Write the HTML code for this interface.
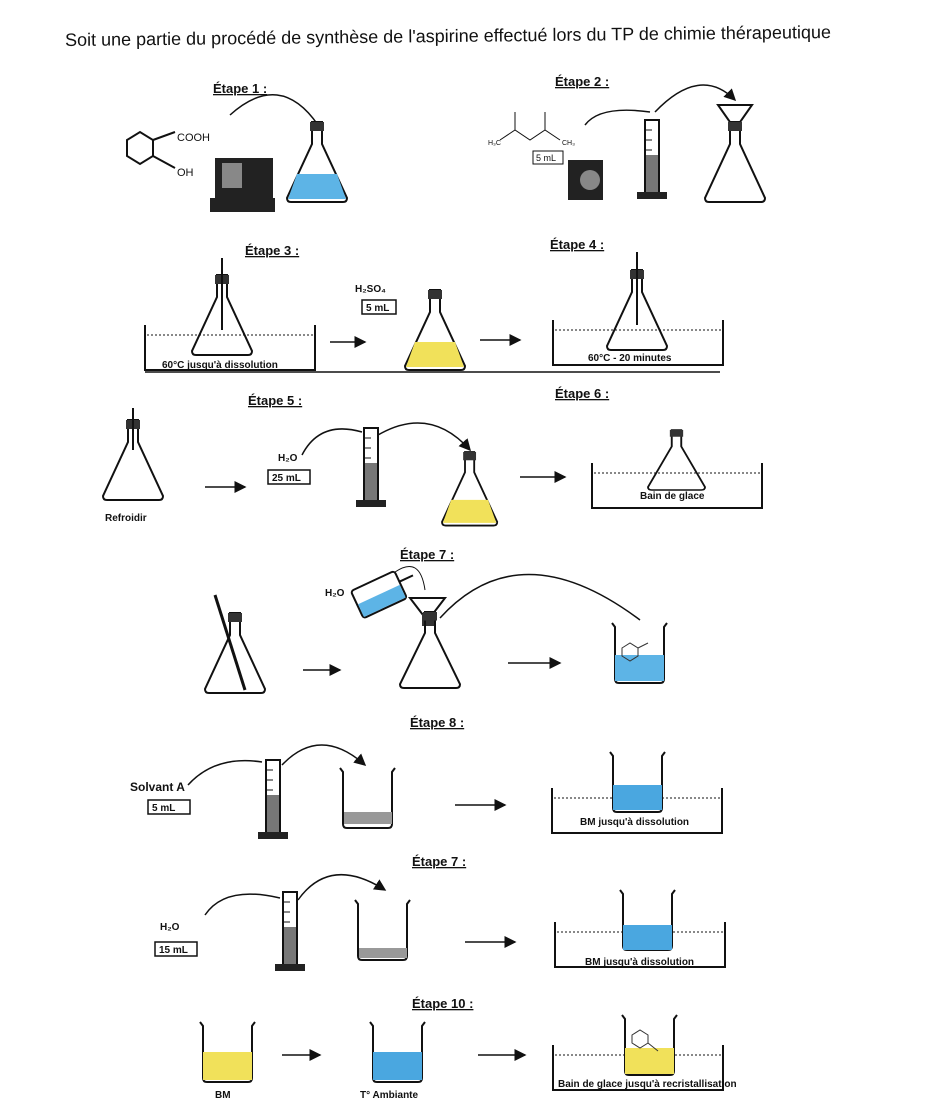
<!DOCTYPE html>
<html><head><meta charset="utf-8"><style>
html,body{margin:0;padding:0;background:#fff}
svg{display:block}
text{font-family:"Liberation Sans",sans-serif;fill:#111}
.et{font-size:13px;font-weight:bold;text-decoration:underline}
.s{font-size:10px;font-weight:bold}
</style></head><body>
<svg width="928" height="1120" viewBox="0 0 928 1120" xmlns="http://www.w3.org/2000/svg">
<defs>
<symbol id="flask" overflow="visible"><path d="M25,0 H35 V22 L60,76 Q60,80 56,80 H4 Q0,80 0,76 L25,22 Z" fill="none" stroke="#111" stroke-width="2"/><rect x="23" y="0" width="14" height="9" fill="#333"/></symbol>
<symbol id="lq" overflow="visible"><polygon points="10,52 50,52 59,77 1,77"/></symbol>
<symbol id="beaker" overflow="visible"><path d="M0,0 L3,4 V56 Q3,60 7,60 H48 Q52,60 52,56 V4 L55,0" fill="none" stroke="#111" stroke-width="2"/></symbol>
<symbol id="cyl" overflow="visible"><rect x="8" y="0" width="14" height="72" fill="none" stroke="#111" stroke-width="2"/><rect x="0" y="72" width="30" height="7" fill="#222"/><path d="M9,10h6M9,20h6M9,30h6M9,40h6M9,50h6M9,60h6" stroke="#111"/><rect x="9" y="35" width="12" height="37" fill="#777"/></symbol>
<symbol id="bath" overflow="visible"><path d="M0,0 V45 H170 V0" fill="none" stroke="#111" stroke-width="2"/><path d="M2,10 H168" stroke="#111" stroke-dasharray="2,2"/></symbol>
<marker id="ar" markerWidth="8" markerHeight="8" refX="7" refY="4" orient="auto"><path d="M0,0 L8,4 L0,8 Z" fill="#111"/></marker>
</defs>
<text x="65" y="42" font-size="18" transform="rotate(-0.6 450 35)">Soit une partie du procédé de synthèse de l'aspirine effectué lors du TP de chimie thérapeutique</text>

<!-- Etape 1 -->
<text x="213" y="93" class="et">Étape 1 :</text>
<polygon points="127,140 140,132 153,140 153,156 140,164 127,156" fill="none" stroke="#111" stroke-width="2"/>
<path d="M153,140 L175,132 M153,156 L175,168" stroke="#111" stroke-width="2"/>
<text x="177" y="141" font-size="11">COOH</text><text x="177" y="176" font-size="11">OH</text>
<rect x="215" y="158" width="58" height="45" fill="#222"/><rect x="210" y="198" width="65" height="14" fill="#222"/><rect x="222" y="163" width="20" height="25" fill="#888"/>
<path d="M230,115 Q280,70 318,125" fill="none" stroke="#111" stroke-width="1.5"/>
<use href="#flask" x="287" y="122"/><use href="#lq" x="287" y="122" fill="#5db4e6"/>

<!-- Etape 2 -->
<text x="555" y="86" class="et">Étape 2 :</text>
<path d="M500,140 L515,130 L530,140 L545,130 L560,140 M515,130 V112 M545,130 V112" fill="none" stroke="#111"/>
<text x="488" y="145" font-size="7">H₃C</text><text x="562" y="145" font-size="7">CH₃</text>
<rect x="533" y="151" width="30" height="13" fill="none" stroke="#111"/><text x="536" y="161" font-size="9">5 mL</text>
<path d="M568,160 h35 v40 h-35 z" fill="#222"/><circle cx="590" cy="180" r="10" fill="#888"/>
<path d="M585,125 Q600,105 650,112" fill="none" stroke="#111" stroke-width="1.5"/>
<path d="M655,112 Q700,65 735,100" fill="none" stroke="#111" stroke-width="1.5" marker-end="url(#ar)"/>
<use href="#cyl" x="637" y="120"/>
<path d="M718,105 H752 L738,125 H732 Z" fill="none" stroke="#111" stroke-width="2"/>
<use href="#flask" x="705" y="122"/>

<!-- Etape 3/4 -->
<text x="245" y="255" class="et">Étape 3 :</text>
<use href="#bath" x="145" y="325"/>
<use href="#flask" x="192" y="275"/><path d="M222,258 V330" stroke="#111" stroke-width="2"/>
<text x="162" y="368" class="s" font-size="8">60°C jusqu'à dissolution</text>
<path d="M330,342 H365" stroke="#111" stroke-width="1.5" marker-end="url(#ar)"/>
<text x="355" y="292" class="s">H₂SO₄</text><rect x="362" y="300" width="34" height="14" fill="none" stroke="#111" stroke-width="1.5"/><text x="366" y="311" class="s">5 mL</text>
<use href="#flask" x="405" y="290"/><use href="#lq" x="405" y="290" fill="#f1e15a"/>
<path d="M480,340 H520" stroke="#111" stroke-width="1.5" marker-end="url(#ar)"/>
<text x="550" y="249" class="et">Étape 4 :</text>
<use href="#bath" x="553" y="320"/>
<use href="#flask" x="607" y="270"/><path d="M637,252 V325" stroke="#111" stroke-width="2"/>
<text x="588" y="361" class="s" font-size="8">60°C - 20 minutes</text>
<path d="M145,372 H720" stroke="#111" stroke-width="1.5"/>

<!-- Etape 5/6 -->
<text x="248" y="405" class="et">Étape 5 :</text>
<use href="#flask" x="103" y="420"/><path d="M133,408 V450" stroke="#111" stroke-width="2"/>
<text x="105" y="521" class="s">Refroidir</text>
<path d="M205,487 H245" stroke="#111" stroke-width="1.5" marker-end="url(#ar)"/>
<text x="278" y="461" class="s">H₂O</text><rect x="268" y="470" width="42" height="14" fill="none" stroke="#111" stroke-width="1.5"/><text x="272" y="481" class="s">25 mL</text>
<path d="M302,455 Q320,420 362,432" fill="none" stroke="#111" stroke-width="1.5"/>
<path d="M378,435 Q430,405 470,450" fill="none" stroke="#111" stroke-width="1.5" marker-end="url(#ar)"/>
<use href="#cyl" x="356" y="428"/>
<use href="#flask" x="442" y="452" transform="translate(442,452) scale(0.92) translate(-442,-452)"/><use href="#lq" x="442" y="452" fill="#f1e15a" transform="translate(442,452) scale(0.92) translate(-442,-452)"/>
<path d="M520,477 H565" stroke="#111" stroke-width="1.5" marker-end="url(#ar)"/>
<text x="555" y="398" class="et">Étape 6 :</text>
<use href="#bath" x="592" y="463"/>
<use href="#flask" x="648" y="430" transform="translate(648,430) scale(0.95,0.75) translate(-648,-430)"/>
<text x="640" y="499" class="s" font-size="9">Bain de glace</text>

<!-- Etape 7 -->
<text x="400" y="559" class="et">Étape 7 :</text>
<use href="#flask" x="205" y="613"/><path d="M215,595 L245,690" stroke="#111" stroke-width="3"/>
<path d="M303,670 H340" stroke="#111" stroke-width="1.5" marker-end="url(#ar)"/>
<text x="325" y="596" class="s">H₂O</text>
<g transform="rotate(-25 378 595)"><rect x="355" y="580" width="48" height="30" rx="3" fill="#fff" stroke="#111" stroke-width="2"/><rect x="356" y="595" width="46" height="14" fill="#5db4e6"/><path d="M403,592 H418" stroke="#111" stroke-width="2"/></g>
<path d="M395,572 Q420,555 425,590" fill="none" stroke="#111"/>
<path d="M410,598 H445 L432,615 H423 Z" fill="none" stroke="#111" stroke-width="2"/><rect x="422" y="614" width="12" height="12" fill="#333"/>
<use href="#flask" x="400" y="612" transform="translate(400,612) scale(1,0.95) translate(-400,-612)"/>
<path d="M440,618 Q520,530 640,620" fill="none" stroke="#111" stroke-width="1.5"/>
<path d="M508,663 H560" stroke="#111" stroke-width="1.5" marker-end="url(#ar)"/>
<use href="#beaker" x="612" y="623"/><rect x="615" y="655" width="49" height="26" fill="#5db4e6"/>
<path d="M622,648 l8,-5 8,5 v8 l-8,5 -8,-5z M638,648 l10,-5" fill="none" stroke="#333"/>

<!-- Etape 8 -->
<text x="410" y="727" class="et">Étape 8 :</text>
<text x="130" y="791" font-size="12" font-weight="bold">Solvant A</text>
<rect x="148" y="800" width="42" height="14" fill="none" stroke="#111" stroke-width="1.5"/><text x="152" y="811" class="s">5 mL</text>
<path d="M188,785 Q215,755 262,762" fill="none" stroke="#111" stroke-width="1.5"/>
<path d="M282,765 Q320,725 365,765" fill="none" stroke="#111" stroke-width="1.5" marker-end="url(#ar)"/>
<use href="#cyl" x="258" y="760"/>
<use href="#beaker" x="340" y="768"/><rect x="344" y="812" width="48" height="12" fill="#999"/>
<path d="M455,805 H505" stroke="#111" stroke-width="1.5" marker-end="url(#ar)"/>
<use href="#bath" x="552" y="788"/>
<use href="#beaker" x="610" y="752"/><rect x="613" y="785" width="49" height="25" fill="#4aa7e0"/>
<text x="580" y="825" class="s" font-size="8">BM jusqu'à dissolution</text>

<!-- Etape 7 bis -->
<text x="412" y="866" class="et">Étape 7 :</text>
<text x="160" y="930" class="s">H₂O</text>
<rect x="155" y="942" width="42" height="14" fill="none" stroke="#111" stroke-width="1.5"/><text x="159" y="953" class="s">15 mL</text>
<path d="M205,915 Q225,885 280,898" fill="none" stroke="#111" stroke-width="1.5"/>
<path d="M298,900 Q330,855 385,890" fill="none" stroke="#111" stroke-width="1.5" marker-end="url(#ar)"/>
<use href="#cyl" x="275" y="892"/>
<use href="#beaker" x="355" y="900"/><rect x="359" y="948" width="48" height="10" fill="#999"/>
<path d="M465,942 H515" stroke="#111" stroke-width="1.5" marker-end="url(#ar)"/>
<use href="#bath" x="555" y="922"/>
<use href="#beaker" x="620" y="890"/><rect x="623" y="925" width="49" height="25" fill="#4aa7e0"/>
<text x="585" y="965" class="s" font-size="8">BM jusqu'à dissolution</text>

<!-- Etape 10 -->
<text x="412" y="1008" class="et">Étape 10 :</text>
<use href="#beaker" x="200" y="1022"/><rect x="203" y="1052" width="49" height="28" fill="#f1e15a"/>
<text x="215" y="1098" class="s">BM</text>
<path d="M282,1055 H320" stroke="#111" stroke-width="1.5" marker-end="url(#ar)"/>
<use href="#beaker" x="370" y="1022"/><rect x="373" y="1052" width="49" height="28" fill="#4aa7e0"/>
<text x="360" y="1098" class="s">T° Ambiante</text>
<path d="M478,1055 H525" stroke="#111" stroke-width="1.5" marker-end="url(#ar)"/>
<use href="#bath" x="553" y="1045"/>
<use href="#beaker" x="622" y="1015"/><rect x="625" y="1048" width="49" height="26" fill="#f1e15a"/>
<path d="M632,1035 l8,-5 8,5 v8 l-8,5 -8,-5z M648,1043 l10,8" fill="none" stroke="#333"/>
<text x="558" y="1087" class="s" font-size="6.5">Bain de glace jusqu'à recristallisation</text>
</svg>
</body></html>
